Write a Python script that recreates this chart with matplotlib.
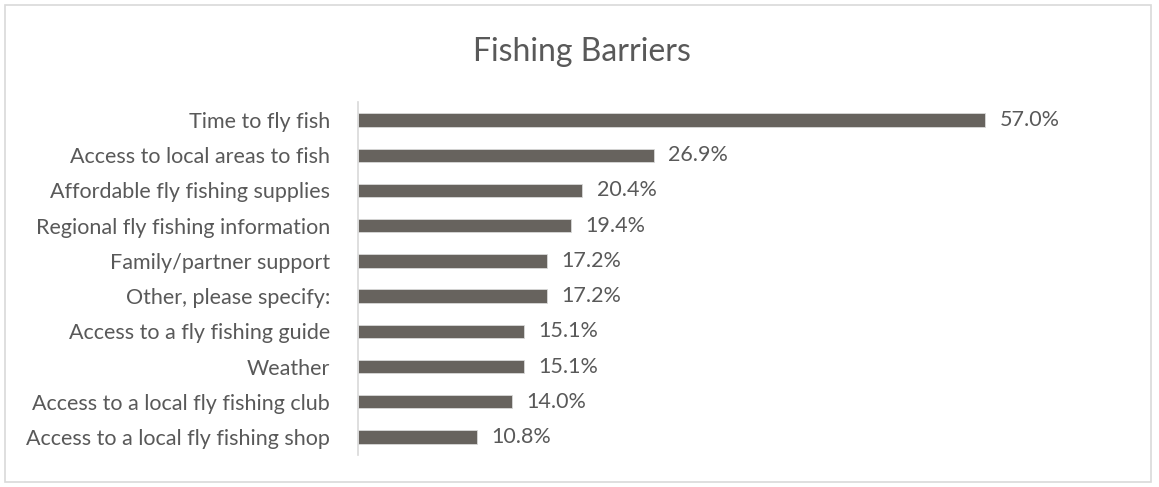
import matplotlib
matplotlib.use('Agg')
import matplotlib.pyplot as plt
from matplotlib.patches import Rectangle

# Barrier categories and share of respondents (%)
barriers = ['Time to fly fish', 'Access to local areas to fish', 'Affordable fly fishing supplies',
            'Regional fly fishing information', 'Family/partner support', 'Other, please specify:',
            'Access to a fly fishing guide', 'Weather', 'Access to a local fly fishing club',
            'Access to a local fly fishing shop']
shares = [57.0, 26.9, 20.4, 19.4, 17.2, 17.2, 15.1, 15.1, 14.0, 10.8]

plt.rcParams['font.family'] = ['Lato', 'DejaVu Sans']
txt = '#595959'

fig = plt.figure(figsize=(11.59, 4.87), dpi=100)
ax = fig.add_axes([358 / 1159, 1 - 454.6 / 487, 660 / 1159, (454.6 - 102.4) / 487])

pos = list(range(len(barriers)))
ax.barh(pos, shares, height=0.38, color='#67635e', edgecolor='#d9d9d9', linewidth=0.6)
for p, v in zip(pos, shares):
    ax.text(v + 1.3, p, f'{v:.1f}%', va='center', ha='left', fontsize=15.5, color=txt)

ax.set_ylim(len(barriers) - 0.5, -0.5)
ax.set_xlim(0, 60)
ax.set_yticks(pos)
ax.set_yticklabels(barriers, fontsize=15.5, color=txt)
ax.tick_params(axis='y', length=0, pad=20)
ax.set_xticks([])
for s in ['top', 'right', 'bottom']:
    ax.spines[s].set_visible(False)
ax.spines['left'].set_color('#d9d9d9')
ax.spines['left'].set_linewidth(1.2)

fig.text(582 / 1159, 1 - 52 / 487, 'Fishing Barriers', ha='center', va='center',
         fontsize=23, color=txt)

# chart frame
fig.patches.append(Rectangle((5 / 1159, 5 / 487), 1146 / 1159, 477 / 487, transform=fig.transFigure,
                             fill=False, edgecolor='#d9d9d9', linewidth=1.2))

fig.savefig('out.png', dpi=100)
